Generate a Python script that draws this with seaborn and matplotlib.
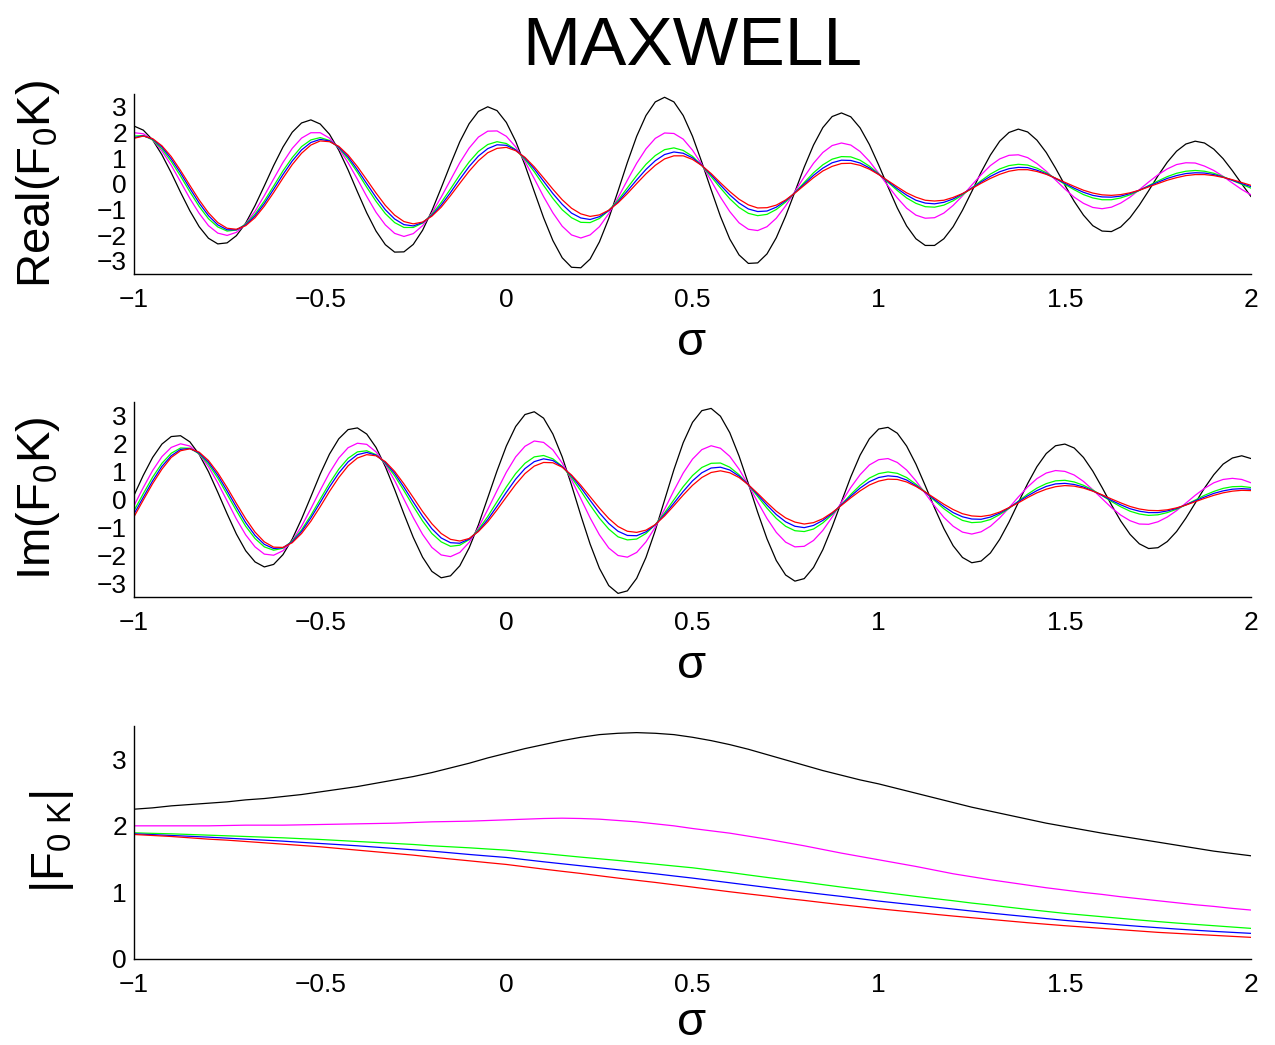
import numpy as np
import seaborn as sns
import matplotlib.pyplot as plt

# sigma grid for the oscillating panels (step 0.025)
sigma = np.round(np.arange(121) * 0.025 - 1.0, 3)

# Real part
re_black = [2.25, 2.09, 1.71, 1.13, 0.43, -0.33, -1.05, -1.67, -2.12, -2.34,
            -2.30, -2.02, -1.53, -0.85, -0.08, 0.71, 1.43, 2.01, 2.37, 2.49,
            2.33, 1.93, 1.31, 0.54, -0.31, -1.13, -1.84, -2.37, -2.66, -2.65,
            -2.36, -1.81, -1.05, -0.16, 0.76, 1.64, 2.34, 2.82, 3.00, 2.85,
            2.39, 1.66, 0.73, -0.30, -1.32, -2.21, -2.88, -3.25, -3.27, -2.93,
            -2.26, -1.35, -0.28, 0.83, 1.85, 2.66, 3.19, 3.37, 3.19, 2.66,
            1.85, 0.84, -0.23, -1.27, -2.15, -2.77, -3.10, -3.08, -2.73, -2.10,
            -1.26, -0.31, 0.65, 1.51, 2.19, 2.62, 2.76, 2.61, 2.18, 1.53,
            0.73, -0.12, -0.94, -1.64, -2.14, -2.40, -2.40, -2.14, -1.67, -1.03,
            -0.30, 0.45, 1.12, 1.66, 2.00, 2.13, 2.02, 1.70, 1.22, 0.61,
            -0.05, -0.68, -1.22, -1.63, -1.84, -1.86, -1.68, -1.32, -0.83, -0.27,
            0.31, 0.84, 1.27, 1.55, 1.66, 1.59, 1.35, 0.98, 0.51, 0.00,
            -0.50]
re_magenta = [1.99, 1.95, 1.71, 1.28, 0.72, 0.08, -0.57, -1.15, -1.63, -1.92,
              -2.01, -1.89, -1.56, -1.07, -0.46, 0.19, 0.83, 1.38, 1.78, 1.99,
              1.99, 1.78, 1.38, 0.82, 0.18, -0.49, -1.11, -1.60, -1.93, -2.05,
              -1.94, -1.63, -1.14, -0.52, 0.15, 0.82, 1.39, 1.82, 2.05, 2.06,
              1.85, 1.44, 0.87, 0.20, -0.50, -1.13, -1.65, -1.99, -2.11, -1.99,
              -1.67, -1.16, -0.54, 0.14, 0.80, 1.36, 1.77, 1.98, 1.96, 1.74,
              1.31, 0.75, 0.12, -0.52, -1.08, -1.52, -1.77, -1.82, -1.67, -1.34,
              -0.86, -0.30, 0.27, 0.80, 1.22, 1.49, 1.59, 1.51, 1.26, 0.88,
              0.41, -0.08, -0.55, -0.95, -1.22, -1.34, -1.32, -1.14, -0.84, -0.47,
              -0.05, 0.35, 0.71, 0.97, 1.11, 1.13, 1.02, 0.79, 0.49, 0.15,
              -0.20, -0.52, -0.76, -0.92, -0.97, -0.91, -0.75, -0.52, -0.23, 0.07,
              0.35, 0.58, 0.75, 0.82, 0.81, 0.69, 0.52, 0.29, 0.03, -0.22,
              -0.43]
re_green = [1.86, 1.88, 1.71, 1.36, 0.87, 0.30, -0.31, -0.88, -1.36, -1.68,
            -1.84, -1.80, -1.57, -1.18, -0.67, -0.09, 0.50, 1.02, 1.45, 1.71,
            1.80, 1.69, 1.41, 0.97, 0.45, -0.13, -0.68, -1.16, -1.51, -1.70,
            -1.70, -1.53, -1.19, -0.73, -0.20, 0.35, 0.85, 1.26, 1.53, 1.64,
            1.57, 1.33, 0.95, 0.47, -0.06, -0.57, -1.01, -1.32, -1.50, -1.51,
            -1.35, -1.04, -0.64, -0.16, 0.32, 0.76, 1.10, 1.33, 1.40, 1.30,
            1.07, 0.71, 0.28, -0.16, -0.58, -0.92, -1.15, -1.24, -1.19, -1.00,
            -0.71, -0.34, 0.05, 0.43, 0.74, 0.96, 1.06, 1.05, 0.92, 0.69,
            0.39, 0.06, -0.26, -0.55, -0.76, -0.89, -0.91, -0.83, -0.66, -0.43,
            -0.16, 0.12, 0.38, 0.58, 0.71, 0.76, 0.73, 0.61, 0.43, 0.21,
            -0.02, -0.23, -0.42, -0.55, -0.62, -0.62, -0.55, -0.43, -0.26, -0.07,
            0.11, 0.28, 0.41, 0.49, 0.52, 0.49, 0.41, 0.28, 0.13, -0.02,
            -0.17]
re_blue = [1.80, 1.87, 1.74, 1.43, 0.97, 0.42, -0.18, -0.75, -1.24, -1.60,
           -1.79, -1.79, -1.60, -1.25, -0.77, -0.21, 0.36, 0.89, 1.32, 1.61,
           1.73, 1.67, 1.43, 1.05, 0.55, 0.01, -0.53, -1.01, -1.37, -1.59,
           -1.64, -1.51, -1.23, -0.83, -0.34, 0.18, 0.67, 1.08, 1.37, 1.52,
           1.50, 1.32, 1.00, 0.58, 0.10, -0.38, -0.80, -1.14, -1.33, -1.39,
           -1.28, -1.04, -0.70, -0.28, 0.15, 0.56, 0.90, 1.14, 1.24, 1.19,
           1.01, 0.72, 0.35, -0.05, -0.43, -0.75, -0.98, -1.08, -1.06, -0.91,
           -0.66, -0.35, -0.01, 0.33, 0.61, 0.82, 0.92, 0.91, 0.81, 0.62,
           0.37, 0.09, -0.19, -0.44, -0.64, -0.75, -0.78, -0.72, -0.59, -0.39,
           -0.17, 0.07, 0.29, 0.47, 0.59, 0.64, 0.63, 0.53, 0.39, 0.21,
           0.02, -0.17, -0.33, -0.45, -0.51, -0.52, -0.48, -0.38, -0.25, -0.09,
           0.06, 0.21, 0.32, 0.40, 0.43, 0.42, 0.36, 0.26, 0.14, 0.01,
           -0.11]
re_red = [1.77, 1.86, 1.76, 1.48, 1.06, 0.52, -0.06, -0.63, -1.13, -1.51,
          -1.73, -1.77, -1.63, -1.32, -0.87, -0.34, 0.22, 0.75, 1.19, 1.51,
          1.67, 1.64, 1.46, 1.12, 0.67, 0.16, -0.36, -0.84, -1.22, -1.47,
          -1.56, -1.49, -1.26, -0.91, -0.46, 0.02, 0.49, 0.90, 1.21, 1.38,
          1.42, 1.29, 1.03, 0.66, 0.23, -0.21, -0.62, -0.95, -1.17, -1.27,
          -1.21, -1.03, -0.74, -0.38, 0.01, 0.39, 0.72, 0.97, 1.09, 1.09,
          0.95, 0.71, 0.40, 0.04, -0.30, -0.60, -0.82, -0.94, -0.93, -0.83,
          -0.63, -0.36, -0.06, 0.24, 0.50, 0.68, 0.79, 0.80, 0.72, 0.57,
          0.36, 0.12, -0.12, -0.35, -0.52, -0.64, -0.67, -0.64, -0.53, -0.38,
          -0.19, 0.02, 0.21, 0.37, 0.49, 0.55, 0.55, 0.48, 0.37, 0.22,
          0.06, -0.10, -0.25, -0.36, -0.43, -0.45, -0.42, -0.35, -0.25, -0.12,
          0.01, 0.14, 0.24, 0.32, 0.36, 0.36, 0.32, 0.25, 0.16, 0.05,
          -0.06]

# Imaginary part
im_black = [0.15, 0.87, 1.51, 1.99, 2.26, 2.29, 2.07, 1.62, 1.00, 0.26,
            -0.51, -1.24, -1.84, -2.24, -2.42, -2.33, -1.98, -1.42, -0.70, 0.10,
            0.91, 1.63, 2.18, 2.51, 2.57, 2.35, 1.87, 1.18, 0.36, -0.52,
            -1.36, -2.07, -2.58, -2.81, -2.74, -2.38, -1.74, -0.91, 0.06, 1.03,
            1.92, 2.62, 3.05, 3.15, 2.92, 2.35, 1.53, 0.52, -0.57, -1.60,
            -2.47, -3.09, -3.37, -3.28, -2.83, -2.08, -1.11, -0.02, 1.07, 2.04,
            2.77, 3.19, 3.27, 2.99, 2.40, 1.56, 0.57, -0.46, -1.41, -2.19,
            -2.71, -2.93, -2.84, -2.44, -1.80, -0.98, -0.08, 0.81, 1.59, 2.18,
            2.53, 2.59, 2.38, 1.92, 1.27, 0.50, -0.30, -1.04, -1.66, -2.08,
            -2.27, -2.21, -1.92, -1.43, -0.81, -0.11, 0.57, 1.18, 1.65, 1.93,
            1.99, 1.85, 1.51, 1.02, 0.43, -0.19, -0.77, -1.25, -1.59, -1.76,
            -1.73, -1.51, -1.15, -0.67, -0.13, 0.41, 0.89, 1.27, 1.49, 1.57,
            1.47]
im_magenta = [-0.22, 0.43, 1.04, 1.54, 1.87, 2.00, 1.92, 1.63, 1.18, 0.60,
              -0.05, -0.70, -1.27, -1.70, -1.96, -2.00, -1.84, -1.48, -0.96, -0.33,
              0.33, 0.96, 1.49, 1.86, 2.02, 1.98, 1.71, 1.26, 0.68, 0.01,
              -0.65, -1.25, -1.72, -1.99, -2.05, -1.90, -1.54, -1.01, -0.36, 0.32,
              0.98, 1.53, 1.91, 2.10, 2.05, 1.78, 1.31, 0.71, 0.03, -0.66,
              -1.27, -1.74, -2.01, -2.07, -1.90, -1.52, -0.99, -0.35, 0.32, 0.95,
              1.45, 1.79, 1.93, 1.84, 1.55, 1.09, 0.52, -0.09, -0.68, -1.18,
              -1.53, -1.70, -1.68, -1.47, -1.11, -0.63, -0.10, 0.43, 0.89, 1.24,
              1.43, 1.47, 1.33, 1.06, 0.67, 0.22, -0.23, -0.64, -0.96, -1.17,
              -1.24, -1.16, -0.96, -0.66, -0.30, 0.09, 0.45, 0.75, 0.95, 1.04,
              1.01, 0.88, 0.65, 0.35, 0.03, -0.29, -0.56, -0.76, -0.88, -0.89,
              -0.80, -0.63, -0.40, -0.13, 0.15, 0.40, 0.60, 0.72, 0.76, 0.72,
              0.60]
im_green = [-0.40, 0.21, 0.80, 1.30, 1.66, 1.85, 1.84, 1.64, 1.27, 0.77,
            0.19, -0.40, -0.96, -1.40, -1.70, -1.82, -1.75, -1.49, -1.09, -0.57,
            0.01, 0.58, 1.09, 1.48, 1.71, 1.75, 1.61, 1.30, 0.85, 0.32,
            -0.24, -0.77, -1.22, -1.52, -1.68, -1.64, -1.44, -1.08, -0.61, -0.08,
            0.45, 0.93, 1.30, 1.53, 1.58, 1.46, 1.19, 0.79, 0.31, -0.20,
            -0.67, -1.06, -1.34, -1.45, -1.42, -1.22, -0.90, -0.48, -0.01, 0.46,
            0.86, 1.15, 1.30, 1.31, 1.16, 0.89, 0.52, 0.11, -0.31, -0.68,
            -0.96, -1.12, -1.15, -1.06, -0.84, -0.54, -0.18, 0.18, 0.51, 0.77,
            0.93, 0.99, 0.94, 0.79, 0.55, 0.27, -0.04, -0.33, -0.57, -0.75,
            -0.83, -0.81, -0.72, -0.54, -0.32, -0.06, 0.19, 0.41, 0.57, 0.67,
            0.69, 0.63, 0.51, 0.34, 0.14, -0.07, -0.26, -0.42, -0.52, -0.57,
            -0.55, -0.47, -0.35, -0.19, -0.02, 0.15, 0.29, 0.40, 0.46, 0.47,
            0.43]
im_blue = [-0.52, 0.08, 0.67, 1.19, 1.57, 1.80, 1.83, 1.67, 1.34, 0.87,
           0.31, -0.27, -0.83, -1.29, -1.61, -1.76, -1.73, -1.52, -1.15, -0.66,
           -0.11, 0.45, 0.95, 1.35, 1.61, 1.69, 1.59, 1.33, 0.94, 0.44,
           -0.09, -0.60, -1.05, -1.38, -1.55, -1.57, -1.42, -1.13, -0.72, -0.24,
           0.26, 0.73, 1.11, 1.36, 1.46, 1.40, 1.18, 0.85, 0.43, -0.03,
           -0.48, -0.86, -1.14, -1.29, -1.30, -1.16, -0.91, -0.54, -0.13, 0.29,
           0.67, 0.96, 1.13, 1.16, 1.06, 0.84, 0.53, 0.17, -0.20, -0.54,
           -0.80, -0.96, -1.01, -0.93, -0.75, -0.50, -0.19, 0.12, 0.41, 0.64,
           0.79, 0.85, 0.82, 0.70, 0.50, 0.26, 0.00, -0.25, -0.47, -0.62,
           -0.70, -0.71, -0.63, -0.49, -0.30, -0.08, 0.13, 0.32, 0.47, 0.56,
           0.58, 0.54, 0.45, 0.31, 0.15, -0.03, -0.19, -0.33, -0.42, -0.47,
           -0.47, -0.41, -0.32, -0.19, -0.05, 0.09, 0.22, 0.31, 0.37, 0.39,
           0.37]
im_red = [-0.62, -0.02, 0.57, 1.09, 1.51, 1.75, 1.82, 1.70, 1.40, 0.96,
          0.43, -0.14, -0.69, -1.17, -1.52, -1.71, -1.72, -1.55, -1.22, -0.78,
          -0.26, 0.29, 0.79, 1.21, 1.49, 1.61, 1.57, 1.36, 1.01, 0.56,
          0.07, -0.43, -0.87, -1.22, -1.43, -1.49, -1.40, -1.15, -0.80, -0.37,
          0.09, 0.54, 0.93, 1.20, 1.33, 1.32, 1.16, 0.88, 0.51, 0.10,
          -0.31, -0.68, -0.97, -1.14, -1.18, -1.10, -0.90, -0.59, -0.22, 0.16,
          0.51, 0.79, 0.97, 1.03, 0.96, 0.79, 0.53, 0.22, -0.11, -0.42,
          -0.66, -0.81, -0.88, -0.83, -0.69, -0.47, -0.21, 0.06, 0.31, 0.52,
          0.66, 0.73, 0.72, 0.63, 0.47, 0.27, 0.05, -0.17, -0.36, -0.51,
          -0.59, -0.61, -0.56, -0.45, -0.29, -0.12, 0.07, 0.24, 0.37, 0.46,
          0.50, 0.48, 0.41, 0.30, 0.17, 0.02, -0.12, -0.25, -0.34, -0.39,
          -0.40, -0.37, -0.30, -0.20, -0.08, 0.04, 0.15, 0.24, 0.30, 0.33,
          0.32]

# |F0K| (step 0.05)
sigma_abs = np.round(np.arange(61) * 0.05 - 1.0, 2)
abs_black = [2.25, 2.27, 2.30, 2.32, 2.34, 2.36, 2.39, 2.41, 2.44, 2.47,
             2.51, 2.55, 2.59, 2.64, 2.69, 2.74, 2.80, 2.87, 2.94, 3.02,
             3.09, 3.16, 3.22, 3.28, 3.33, 3.37, 3.39, 3.40, 3.39, 3.37,
             3.33, 3.28, 3.22, 3.15, 3.07, 2.99, 2.91, 2.83, 2.76, 2.69,
             2.63, 2.56, 2.49, 2.42, 2.35, 2.28, 2.22, 2.16, 2.10, 2.04,
             1.99, 1.94, 1.89, 1.845, 1.80, 1.755, 1.71, 1.665, 1.62, 1.585,
             1.55]
abs_magenta = [2.00, 2.00, 2.00, 2.00, 2.00, 2.005, 2.01, 2.01, 2.01, 2.015,
               2.02, 2.025, 2.03, 2.035, 2.04, 2.05, 2.06, 2.065, 2.07, 2.08,
               2.09, 2.10, 2.11, 2.115, 2.11, 2.10, 2.08, 2.06, 2.03, 2.00,
               1.96, 1.925, 1.89, 1.845, 1.80, 1.75, 1.70, 1.645, 1.59, 1.54,
               1.49, 1.44, 1.39, 1.335, 1.28, 1.235, 1.19, 1.15, 1.11, 1.07,
               1.035, 1.00, 0.97, 0.935, 0.905, 0.875, 0.845, 0.815, 0.79, 0.76,
               0.735]
abs_green = [1.895, 1.887, 1.88, 1.87, 1.86, 1.85, 1.84, 1.83, 1.82, 1.807,
             1.795, 1.78, 1.765, 1.75, 1.735, 1.72, 1.70, 1.685, 1.67, 1.652,
             1.635, 1.61, 1.585, 1.557, 1.53, 1.505, 1.48, 1.452, 1.425, 1.397,
             1.37, 1.335, 1.30, 1.262, 1.225, 1.19, 1.155, 1.117, 1.08, 1.045,
             1.01, 0.975, 0.94, 0.907, 0.875, 0.84, 0.81, 0.777, 0.745, 0.715,
             0.685, 0.66, 0.635, 0.61, 0.585, 0.562, 0.54, 0.52, 0.50, 0.48,
             0.46]
abs_blue = [1.88, 1.868, 1.855, 1.843, 1.83, 1.815, 1.80, 1.785, 1.77, 1.752,
            1.735, 1.718, 1.70, 1.68, 1.66, 1.64, 1.62, 1.595, 1.57, 1.547,
            1.525, 1.492, 1.46, 1.43, 1.40, 1.37, 1.34, 1.31, 1.28, 1.247,
            1.215, 1.18, 1.145, 1.11, 1.075, 1.04, 1.005, 0.972, 0.94, 0.905,
            0.87, 0.84, 0.81, 0.78, 0.75, 0.72, 0.69, 0.662, 0.635, 0.607,
            0.58, 0.557, 0.535, 0.512, 0.49, 0.47, 0.45, 0.432, 0.415, 0.40,
            0.385]
abs_red = [1.87, 1.855, 1.84, 1.82, 1.80, 1.785, 1.765, 1.745, 1.725, 1.705,
           1.685, 1.66, 1.635, 1.61, 1.585, 1.56, 1.53, 1.502, 1.475, 1.447,
           1.42, 1.385, 1.35, 1.317, 1.285, 1.25, 1.215, 1.182, 1.15, 1.115,
           1.08, 1.045, 1.01, 0.977, 0.945, 0.91, 0.88, 0.847, 0.815, 0.785,
           0.755, 0.727, 0.70, 0.672, 0.645, 0.62, 0.595, 0.57, 0.545, 0.522,
           0.50, 0.48, 0.46, 0.44, 0.42, 0.40, 0.385, 0.37, 0.355, 0.34,
           0.325]

colors = ['black', '#ff00ff', '#00ff00', '#0000ff', '#ff0000']
re_curves = [re_black, re_magenta, re_green, re_blue, re_red]
im_curves = [im_black, im_magenta, im_green, im_blue, im_red]
abs_curves = [abs_black, abs_magenta, abs_green, abs_blue, abs_red]

sns.set_style("white")
plt.rcParams['font.family'] = ['Liberation Sans', 'DejaVu Sans']
plt.rcParams['text.color'] = 'black'
plt.rcParams['mathtext.fontset'] = 'custom'
plt.rcParams['mathtext.rm'] = 'Liberation Sans'
plt.rcParams['mathtext.it'] = 'Liberation Sans:italic'

fig = plt.figure(figsize=(12.75, 10.45), dpi=100)
ax_re = fig.add_axes([0.1051, 0.7381, 0.8761, 0.1720])
ax_im = fig.add_axes([0.1051, 0.4287, 0.8761, 0.1866])
ax_abs = fig.add_axes([0.1051, 0.0823, 0.8761, 0.2230])

for vals, c in zip(re_curves, colors):
    sns.lineplot(x=sigma, y=vals, color=c, linewidth=0.9, estimator=None,
                 sort=False, legend=False, ax=ax_re)
for vals, c in zip(im_curves, colors):
    sns.lineplot(x=sigma, y=vals, color=c, linewidth=0.9, estimator=None,
                 sort=False, legend=False, ax=ax_im)
for vals, c in zip(abs_curves, colors):
    sns.lineplot(x=sigma_abs, y=vals, color=c, linewidth=0.9, estimator=None,
                 sort=False, legend=False, ax=ax_abs)

xticks = [-1, -0.5, 0, 0.5, 1, 1.5, 2]
xlabels = ['\u22121', '\u22120.5', '0', '0.5', '1', '1.5', '2']
for ax in [ax_re, ax_im, ax_abs]:
    ax.set_xlim(-1, 2)
    ax.set_xticks(xticks)
    ax.set_xticklabels(xlabels)
    ax.set_xlabel('')
    ax.set_ylabel('')
    sns.despine(ax=ax)
    for side in ['left', 'bottom']:
        ax.spines[side].set_color('black')
        ax.spines[side].set_linewidth(1.0)
    ax.tick_params(direction='in', length=7, width=0.9, colors='black', labelsize=19)
    ax.tick_params(axis='x', pad=10)
    ax.tick_params(axis='y', pad=5)

for ax in [ax_re, ax_im]:
    ax.set_ylim(-3.5, 3.5)
    ax.set_yticks([-3, -2, -1, 0, 1, 2, 3])
    ax.set_yticklabels(['\u22123', '\u22122', '\u22121', '0', '1', '2', '3'])
ax_abs.set_ylim(0, 3.5)
ax_abs.set_yticks([0, 1, 2, 3])

W, H = 1275, 1045
fig.text(692 / W, 1 - 65 / H, 'MAXWELL', fontsize=50, color='black',
         ha='center', va='baseline')
for yb in [355, 678, 1035]:
    fig.text(692 / W, 1 - yb / H, '\u03c3', fontsize=34, color='black',
             ha='center', va='baseline')

fig.text(38 / W, 1 - 184 / H, r'$\mathregular{Real(F_0K)}$', fontsize=34,
         rotation=90, ha='center', va='center', color='black')
fig.text(38 / W, 1 - 498 / H, r'$\mathregular{Im(F_0K)}$', fontsize=34,
         rotation=90, ha='center', va='center', color='black')
fig.text(52 / W, 1 - 842 / H, r'$\mathregular{|F_{0\ K}|}$', fontsize=34,
         rotation=90, ha='center', va='center', color='black')

fig.savefig('out.png', dpi=100)
